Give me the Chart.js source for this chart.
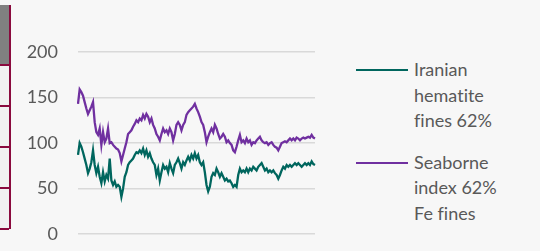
<!DOCTYPE html>
<html>
<head>
<meta charset="utf-8">
<script src="https://cdn.jsdelivr.net/npm/chart.js@4.4.0/dist/chart.umd.min.js"></script>
<style>
  html, body { margin: 0; padding: 0; }
  body { width: 548px; height: 251px; background: #f7f7f7; position: relative; overflow: hidden; font-family: Lato, sans-serif; }
  #rightStrip { position: absolute; left: 540px; top: 0; width: 8px; height: 251px; background: #fff; }
  #side { position: absolute; left: 0; top: 5px; width: 9px; }
  #side div { height: 39px; border-bottom: 2px solid #8a0a3e; background: #f1f1f1; }
  #side div.head { height: 59px; background: #808080; }
  #sideLine { position: absolute; left: 9px; top: 5px; width: 2px; height: 224px; background: #8a0a3e; }
  #wrap { position: absolute; left: 0; top: 0; width: 320px; height: 265px; }
  #legend { position: absolute; left: 356px; top: 57px; color: #595959; font-size: 18px; line-height: 25.5px; font-variant-ligatures: none; }
  .item { display: flex; align-items: flex-start; margin-bottom: 16px; }
  .swatch { width: 52px; height: 2px; margin-top: 12px; margin-right: 6px; flex: none; }
</style>
</head>
<body>
<div id="rightStrip"></div>
<div id="side"><div class="head"></div><div></div><div></div><div></div><div></div></div>
<div id="sideLine"></div>
<div id="wrap"><canvas id="priceChart"></canvas></div>
<div id="legend"></div>
<script>
// series names, as they appear in the legend (one entry per text line)
const seriesNames = [
  ['Iranian', 'hematite', 'fines 62%'],
  ['Seaborne', 'index 62%', 'Fe fines']
];
const seriesColors = ['#00665e', '#7030a0'];

const yTicks = [0, 50, 100, 150, 200];

// Iranian hematite fines 62%
const iranian = [
  87,100,96,90,83,76,67,72,79,92,
  76,67,74,63,56,68,58,65,61,83,
  59,54,58,52,54,52,41,50,63,68,
  76,79,81,83,87,90,89,92,89,94,
  87,92,85,89,83,79,76,65,72,59,
  68,76,72,74,68,78,72,67,76,79,
  83,78,72,79,76,81,85,81,87,83,
  89,83,87,79,76,79,68,54,47,52,
  63,67,65,72,68,63,67,63,59,61,
  58,59,56,52,54,52,65,72,68,70,
  68,72,68,72,70,74,72,70,74,76,
  78,74,70,72,68,70,68,70,67,65,
  61,65,70,74,72,76,74,76,74,76,
  78,76,78,76,74,76,78,76,78,76,
  80,77,76
];

// Seaborne index 62% Fe fines
const seaborne = [
  143,159,156,152,145,138,132,136,140,145,
  123,112,109,116,98,112,101,105,116,100,
  101,98,96,94,93,89,80,87,94,101,
  110,112,114,118,121,125,123,127,125,131,
  127,132,129,123,127,120,116,110,107,103,
  110,116,112,114,110,116,112,103,110,120,
  123,120,114,120,123,131,134,136,138,140,
  143,138,134,129,123,120,112,101,107,112,
  116,112,120,116,110,105,107,110,107,101,
  103,100,98,92,90,96,103,109,101,103,
  100,105,101,103,98,101,100,103,105,107,
  103,101,100,101,98,100,101,98,96,95,
  92,96,100,101,102,101,103,105,103,105,
  103,106,105,103,105,106,105,106,107,106,
  109,106,105
];

// no dates shown on the x axis, so just number the observations
const periods = iranian.map((v, i) => i);

const allSeries = [iranian, seaborne];

// html legend, multi line labels
const legendBox = document.getElementById('legend');
seriesNames.forEach((lines, i) => {
  const item = document.createElement('div');
  item.className = 'item';
  const sw = document.createElement('div');
  sw.className = 'swatch';
  sw.style.background = seriesColors[i];
  const txt = document.createElement('div');
  txt.innerHTML = lines.join('<br>');
  item.appendChild(sw);
  item.appendChild(txt);
  legendBox.appendChild(item);
});

new Chart(document.getElementById('priceChart').getContext('2d'), {
  type: 'line',
  data: {
    labels: periods,
    datasets: allSeries.map((s, i) => ({
      label: seriesNames[i].join(' '),
      data: s,
      borderColor: seriesColors[i],
      borderWidth: 2.3,
      pointRadius: 0,
      tension: 0,
      fill: false
    }))
  },
  options: {
    responsive: true,
    maintainAspectRatio: false,
    animation: false,
    layout: { padding: { top: 52, bottom: 4, right: 5, left: 0 } },
    plugins: {
      legend: { display: false },
      tooltip: { enabled: false }
    },
    scales: {
      x: { display: false },
      y: {
        min: 0,
        max: 200,
        afterFit: function(scale) { scale.width = 78; },
        afterBuildTicks: function(scale) { scale.ticks = yTicks.map(v => ({ value: v })); },
        border: { display: false },
        grid: { color: '#d9d9d9', lineWidth: 1.5, drawTicks: false },
        ticks: {
          color: '#595959',
          padding: 20,
          font: { family: 'Lato', size: 18 }
        }
      }
    }
  }
});
</script>
</body>
</html>
